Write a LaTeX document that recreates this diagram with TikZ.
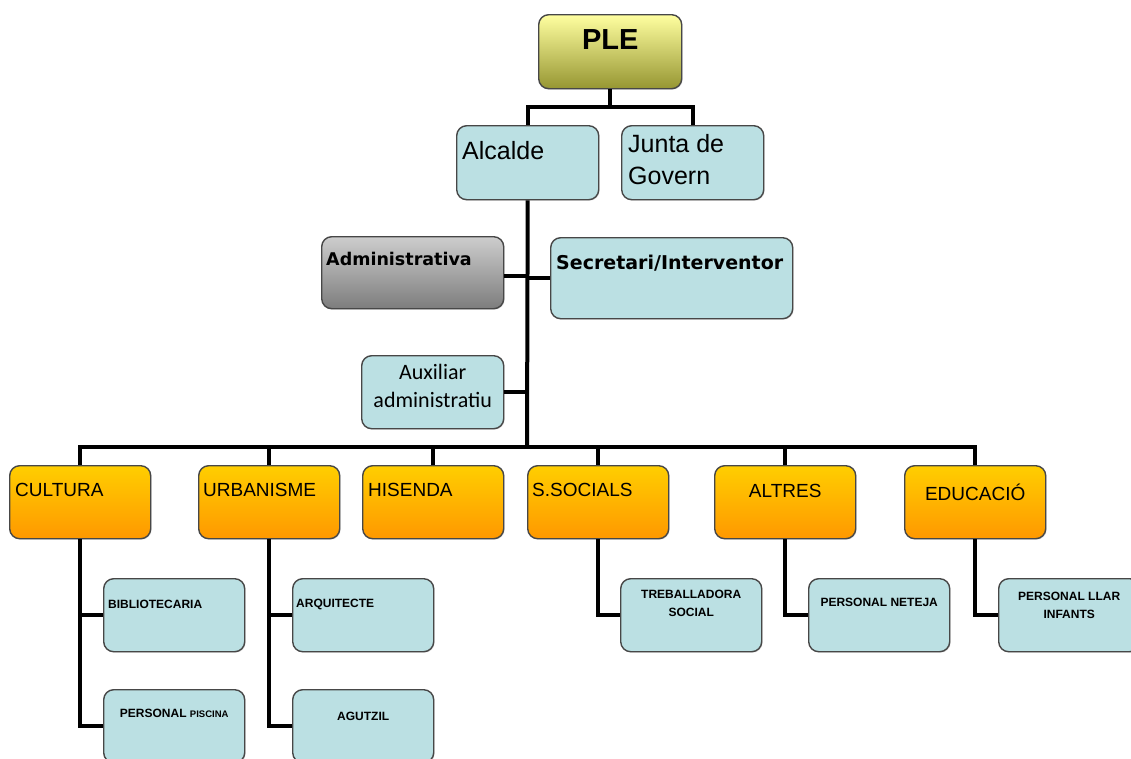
\documentclass[tikz,border=0pt]{standalone}
\usepackage{fontspec}
\usetikzlibrary{shadows}
\setmainfont{Liberation Sans}
\newfontfamily\dejavu{DejaVu Sans}
\newfontfamily\carlito{Carlito}
\definecolor{boxblue}{RGB}{187,224,227}
\definecolor{orgtop}{RGB}{255,206,0}
\definecolor{orgbot}{RGB}{255,152,0}
\definecolor{pletop}{RGB}{255,255,160}
\definecolor{plebot}{RGB}{150,150,50}
\definecolor{admtop}{RGB}{205,205,205}
\definecolor{admbot}{RGB}{125,125,125}
\begin{document}
\begin{tikzpicture}[x=1pt,y=-1pt,
    box/.style={draw=black!72, line width=1.4pt, rounded corners=10pt, anchor=north west,
        inner sep=0pt, minimum width=141pt, minimum height=73pt,
        drop shadow={opacity=0.25, shadow xshift=1pt, shadow yshift=-1pt}},
    bl/.style={box, fill=boxblue},
    og/.style={box, top color=orgtop, bottom color=orgbot},
    wire/.style={line width=4pt},
    big/.style={inner sep=0pt, align=left, font=\fontsize{25}{32}\selectfont},
    mid/.style={inner sep=0pt, font=\fontsize{19}{23}\selectfont},
    sm/.style={inner sep=0pt, align=center, font=\bfseries\fontsize{12}{18}\selectfont}]
    \useasboundingbox (0,0) rectangle (1131,758);
    \clip (0,0) rectangle (1131,758);
    % caps
    \node[box, minimum width=143pt, minimum height=74pt, top color=pletop, bottom color=plebot,
        label={[inner sep=0pt, font=\bfseries\fontsize{29}{32}\selectfont, anchor=center, yshift=-26pt]north:PLE}] (ple) at (538,14) {};
    \node[bl, minimum width=142pt, minimum height=74pt,
        label={[big, anchor=west, xshift=6pt, yshift=-26pt]north west:Alcalde}] (alc) at (456,125) {};
    \node[bl, minimum width=142pt, minimum height=74pt,
        label={[big, anchor=west, xshift=7pt, yshift=-35pt]north west:Junta de\\Govern}] (jun) at (621,125) {};
    \node[box, minimum width=182pt, minimum height=72pt, top color=admtop, bottom color=admbot,
        label={[inner sep=0pt, font=\dejavu\bfseries\fontsize{17.5}{20}\selectfont, anchor=west, xshift=5pt, yshift=-23pt]north west:Administrativa}] (adm) at (321,236) {};
    \node[bl, minimum width=242pt, minimum height=81pt,
        label={[inner sep=0pt, font=\dejavu\bfseries\fontsize{19}{22}\selectfont, anchor=west, xshift=6pt, yshift=-26pt]north west:Secretari/Interventor}] (sec) at (550,237) {};
    \node[bl, minimum width=142pt,
        label={[inner sep=0pt, align=center, font=\carlito\fontsize{22}{28}\selectfont, anchor=center, yshift=-31pt]north:Auxiliar\\administratiu}] (aux) at (361,355) {};
    % departaments
    \node[og, label={[mid, anchor=west, xshift=6pt, yshift=-25pt]north west:CULTURA}] (cul) at (9,465) {};
    \node[og, label={[mid, anchor=west, xshift=5pt, yshift=-25pt]north west:URBANISME}] (urb) at (198,465) {};
    \node[og, label={[mid, anchor=west, xshift=6pt, yshift=-25pt]north west:HISENDA}] (his) at (362,465) {};
    \node[og, label={[mid, anchor=west, xshift=5pt, yshift=-25pt]north west:S.SOCIALS}] (soc) at (527,465) {};
    \node[og, label={[mid, anchor=center, yshift=-26pt]north:ALTRES}] (alt) at (714,465) {};
    \node[og, label={[mid, anchor=center, yshift=-27pt]north:EDUCACIÓ}] (edu) at (904,465) {};
    % personal
    \node[bl, label={[sm, anchor=west, xshift=5pt, yshift=-26pt]north west:BIBLIOTECARIA}] (bib) at (103,578) {};
    \node[bl, label={[sm, anchor=center, yshift=-24pt]north:PERSONAL {\fontsize{9.5}{12}\selectfont PISCINA}}] (pis) at (103,689) {};
    \node[bl, label={[sm, anchor=west, xshift=4pt, yshift=-26pt]north west:ARQUITECTE}] (arq) at (292,578) {};
    \node[bl, label={[sm, anchor=center, yshift=-27pt]north:AGUTZIL}] (agu) at (292,689) {};
    \node[bl, label={[sm, anchor=center, yshift=-25.5pt]north:TREBALLADORA\\SOCIAL}] (tre) at (620,578) {};
    \node[bl, label={[sm, anchor=center, yshift=-24pt]north:PERSONAL NETEJA}] (net) at (808,578) {};
    \node[bl, label={[sm, anchor=center, yshift=-27pt]north:PERSONAL LLAR\\INFANTS}] (lla) at (998,578) {};
    % connectors
    \coordinate (bus) at (527,447);
    \draw[wire] (ple.south) -- ([yshift=-18pt]ple.south) coordinate (t1);
    \draw[wire] (alc.north) |- (t1) -| (jun.north);
    \draw[wire] (alc.south) -- (bus);
    \draw[wire] ([yshift=-3pt]adm.east) -- ([yshift=-3pt]adm.east -| bus);
    \draw[wire] (sec.west) -- (sec.west -| bus);
    \draw[wire] (aux.east) -- (aux.east -| bus);
    \draw[wire] (cul.north) |- (bus) -| (edu.north);
    \foreach \n in {urb,his,soc,alt}
    \draw[wire] (\n.north) -- (\n.north |- bus);
    \foreach \p/\c in {cul/bib,cul/pis,urb/arq,urb/agu,soc/tre,alt/net,edu/lla}
    \draw[wire] (\p.south) |- (\c.west);
\end{tikzpicture}
\end{document}
